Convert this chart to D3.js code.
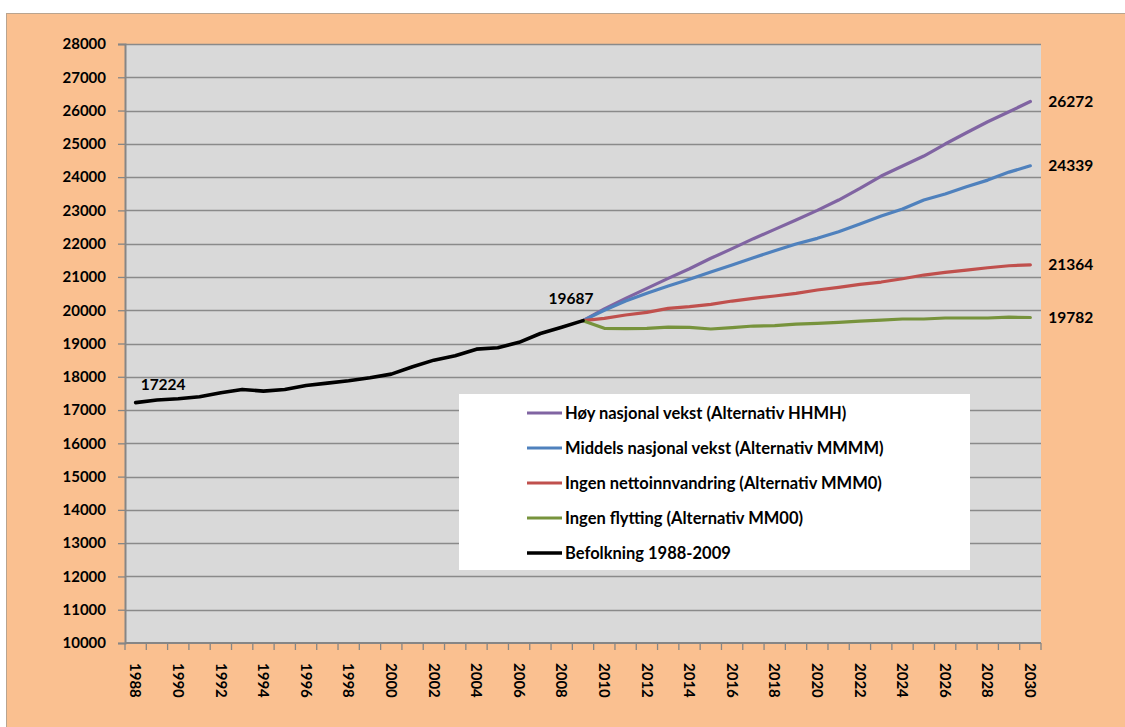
<!DOCTYPE html>
<html>
<head>
<meta charset="utf-8">
<script src="https://cdn.jsdelivr.net/npm/d3@7"></script>
<style>
  body { margin: 0; background: #fff; }
  svg { display: block; font-family: Lato, 'Liberation Sans', sans-serif; font-weight: bold; }
</style>
</head>
<body>
<div id="chart"></div>
<script>
// Years shown on the category axis
const years = d3.range(1988, 2031);
const histYears = d3.range(1988, 2010);
const projYears = d3.range(2009, 2031);

// Befolkning 1988-2009
const befolkning = [17224, 17302, 17341, 17400, 17520, 17620, 17570, 17620, 17740, 17810, 17880,
  17970, 18080, 18300, 18500, 18630, 18830, 18870, 19035, 19300, 19490, 19687];

// Projections 2009-2030
const hhmh = [19687, 20040, 20357, 20657, 20958, 21248, 21560, 21850, 22150, 22430, 22710,
  23000, 23311, 23662, 24033, 24333, 24633, 24994, 25334, 25665, 25965, 26272];
const mmmm = [19687, 20000, 20276, 20507, 20727, 20928, 21148, 21358, 21578, 21788, 21990,
  22160, 22360, 22590, 22830, 23040, 23310, 23490, 23710, 23910, 24150, 24339];
const mmm0 = [19687, 19757, 19856, 19937, 20057, 20107, 20177, 20276, 20357, 20427, 20507,
  20607, 20688, 20778, 20847, 20946, 21057, 21138, 21207, 21277, 21337, 21364];
const mm00 = [19687, 19456, 19446, 19456, 19495, 19485, 19435, 19475, 19525, 19535, 19585,
  19606, 19636, 19675, 19705, 19736, 19736, 19766, 19766, 19766, 19790, 19782];

const yTicks = d3.range(10000, 28001, 1000);
const xLabelYears = years.filter(d => d % 2 === 0);

const seriesNames = [
  'Høy nasjonal vekst (Alternativ HHMH)',
  'Middels nasjonal vekst (Alternativ MMMM)',
  'Ingen nettoinnvandring (Alternativ MMM0)',
  'Ingen flytting (Alternativ MM00)',
  'Befolkning 1988-2009'
];

const width = 1125,
  height = 727,
  plot = {left: 125, top: 44, right: 1041, bottom: 643},
  colors = ['#8064A2', '#4F81BD', '#C0504D', '#77933C', '#000000'];

const series = [
  {name: seriesNames[0], xs: projYears, values: hhmh, color: colors[0], w: 3.2},
  {name: seriesNames[1], xs: projYears, values: mmmm, color: colors[1], w: 3.2},
  {name: seriesNames[2], xs: projYears, values: mmm0, color: colors[2], w: 3.2},
  {name: seriesNames[3], xs: projYears, values: mm00, color: colors[3], w: 3.2},
  {name: seriesNames[4], xs: histYears, values: befolkning, color: colors[4], w: 3.6}
];

const x = d3.scaleBand().domain(years).range([plot.left, plot.right]).padding(0),
  y = d3.scaleLinear().domain([10000, 28000]).range([plot.bottom, plot.top]),
  cx = d => x(d) + x.bandwidth() / 2;

const svg = d3.select('#chart').append('svg')
  .attr('width', width)
  .attr('height', height);

// Chart area background
svg.append('rect')
  .attr('x', 6.5).attr('y', 13.5)
  .attr('width', width + 10).attr('height', height + 10)
  .attr('fill', '#FAC090')
  .attr('stroke', '#B9A48F')
  .attr('stroke-width', 1);

// Plot area
svg.append('rect')
  .attr('x', plot.left).attr('y', plot.top)
  .attr('width', plot.right - plot.left)
  .attr('height', plot.bottom - plot.top)
  .attr('fill', '#D9D9D9');

// Gridlines
svg.append('g').selectAll('line')
  .data(yTicks.slice(1))
  .enter().append('line')
  .attr('x1', plot.left).attr('x2', plot.right)
  .attr('y1', d => Math.round(y(d)) + 0.5)
  .attr('y2', d => Math.round(y(d)) + 0.5)
  .attr('stroke', '#8A8A8A')
  .attr('stroke-width', 1.3);

// Y axis
const yAxis = svg.append('g')
  .attr('transform', 'translate(' + plot.left + ',0)')
  .call(d3.axisLeft(y).tickValues(yTicks).tickSize(7).tickPadding(12).tickFormat(d3.format('d')));
yAxis.select('.domain').attr('stroke', '#868686').attr('stroke-width', 2);
yAxis.selectAll('.tick line').attr('stroke', '#868686').attr('stroke-width', 1.3);
yAxis.selectAll('text')
  .attr('font-size', 15)
  .attr('font-weight', 'bold')
  .attr('font-family', 'Lato, sans-serif')
  .attr('fill', '#000');

// X axis line and category boundary ticks
const xAxis = svg.append('g')
  .attr('transform', 'translate(0,' + plot.bottom + ')');
xAxis.append('line')
  .attr('x1', plot.left).attr('x2', plot.right)
  .attr('stroke', '#868686').attr('stroke-width', 2);
xAxis.selectAll('.bt')
  .data(years.concat([null]))
  .enter().append('line')
  .attr('class', 'bt')
  .attr('x1', d => d === null ? plot.right : x(d))
  .attr('x2', d => d === null ? plot.right : x(d))
  .attr('y1', 0).attr('y2', 7)
  .attr('stroke', '#868686').attr('stroke-width', 1.3);
xAxis.selectAll('.xl')
  .data(xLabelYears)
  .enter().append('text')
  .attr('class', 'xl')
  .attr('transform', d => 'translate(' + cx(d) + ',20) rotate(90)')
  .attr('dy', '0.35em')
  .attr('font-size', 15)
  .text(d => d);

// Lines
const line = d3.line()
  .x(d => cx(d[0]))
  .y(d => y(d[1]));

svg.append('g').selectAll('path')
  .data(series)
  .enter().append('path')
  .attr('d', s => line(s.xs.map((yr, i) => [yr, s.values[i]])))
  .attr('fill', 'none')
  .attr('stroke', s => s.color)
  .attr('stroke-width', s => s.w)
  .attr('stroke-linejoin', 'round')
  .attr('stroke-linecap', 'round');

// Data labels
const labels = svg.append('g').attr('font-size', 15.5);
labels.append('text')
  .attr('x', cx(1988) + 5)
  .attr('y', y(befolkning[0]) - 13)
  .text(befolkning[0]);
labels.append('text')
  .attr('x', cx(2009) - 12)
  .attr('y', y(befolkning[befolkning.length - 1]) - 17)
  .attr('text-anchor', 'middle')
  .text(befolkning[befolkning.length - 1]);
labels.selectAll('.end')
  .data(series.slice(0, 4))
  .enter().append('text')
  .attr('class', 'end')
  .attr('x', cx(2030) + 18)
  .attr('y', s => y(s.values[s.values.length - 1]))
  .attr('dy', '0.35em')
  .text(s => s.values[s.values.length - 1]);

// Legend
const legend = svg.append('g');
legend.append('rect')
  .attr('x', 459).attr('y', 394)
  .attr('width', 511).attr('height', 176)
  .attr('fill', '#fff');
const item = legend.selectAll('.item')
  .data(series)
  .enter().append('g')
  .attr('class', 'item')
  .attr('transform', (s, i) => 'translate(527,' + (413 + i * 35) + ')');
item.append('line')
  .attr('x1', 0).attr('x2', 35)
  .attr('stroke', s => s.color)
  .attr('stroke-width', s => s.w);
item.append('text')
  .attr('x', 38)
  .attr('dy', '0.35em')
  .attr('font-size', 16.5)
  .text(s => s.name);
</script>
</body>
</html>
